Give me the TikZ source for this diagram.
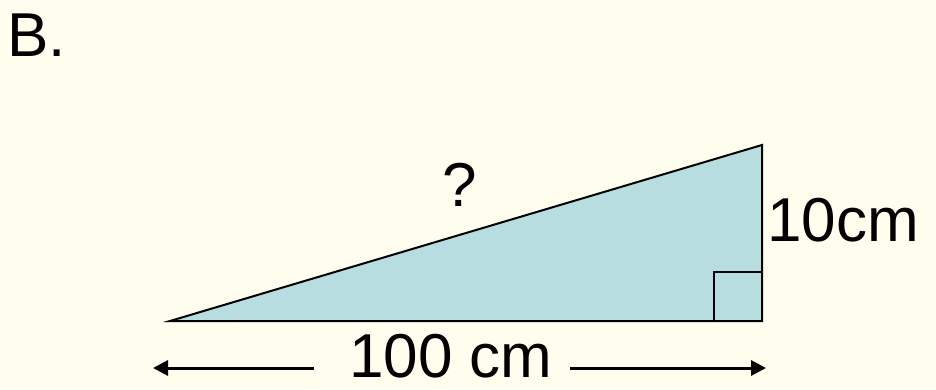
\documentclass[tikz,border=0pt]{standalone}
\usepackage{fontspec}
\setmainfont{Liberation Sans}
\usetikzlibrary{arrows.meta}
\definecolor{paper}{HTML}{FFFDEE}
\definecolor{wedge}{HTML}{B8DDE1}
\begin{document}
\begin{tikzpicture}[
  x=1pt,y=-1pt,
  lbl/.style={inner sep=0pt,font=\fontsize{62}{66}\selectfont},
  dim/.style={line width=3pt,-{Triangle[length=15pt,width=15pt]}}]
\fill[paper] (0,0) rectangle (936,389);
\useasboundingbox (0,0) rectangle (936,389);
\coordinate (A) at (170,321);
\coordinate (B) at (762,321);
\coordinate (C) at (762,145);
\filldraw[fill=wedge,line width=2pt,line join=miter] (A) -- (B) -- (C) -- cycle;
\draw[line width=2pt] (714,321) -- (714,272) -- (762,272);
\node[lbl,anchor=base west] (title) at (7,56) {B.};
\node[lbl,anchor=base] (hyp) at (460,206) {?};
\node[lbl,anchor=base west] (side) at (767,241) {10cm};
\node[lbl,anchor=base] (base) at (451,377) {100 cm};
\coordinate (ltail) at (314,368);
\coordinate (lend) at (153,368);
\coordinate (rtail) at (570,368);
\coordinate (rend) at (766,368);
\draw[dim] (ltail) -- (lend);
\draw[dim] (rtail) -- (rend);
\end{tikzpicture}
\end{document}
